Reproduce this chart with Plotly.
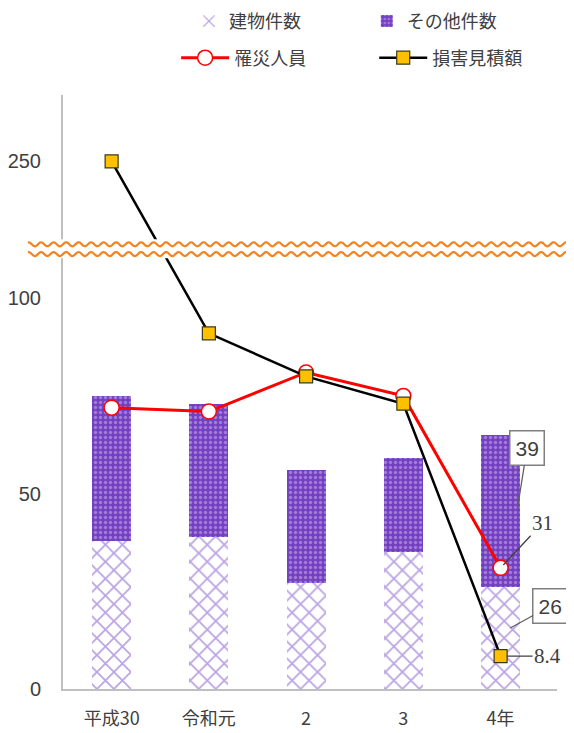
import numpy as np
import plotly.graph_objects as go

# ---- data ----
categories = ["平成30", "令和元", "2", "3", "4年"]
building_fires = [38, 39, 27, 35, 26]     # 建物件数
other_fires = [37, 34, 29, 24, 39]        # その他件数
casualties = [72, 71, 81, 75, 31]         # 罹災人員
damage = [250, 91, 80, 73, 8.4]           # 損害見積額
y_tick_values = [0, 50, 100, 250]

# ---- broken value axis: values above the break sit on a shifted segment ----
LOWER_MAX = 110
UPPER_MIN = 230
BREAK_TOP = 115


def axis_pos(v):
    return v if v <= LOWER_MAX else BREAK_TOP + (v - UPPER_MIN)


xs = list(range(len(categories)))

fig = go.Figure()
fig.add_trace(go.Bar(
    x=xs, y=building_fires, name="建物件数", width=0.4,
    marker=dict(color="#8a5cd4", line=dict(width=0),
                pattern=dict(shape="x", fgcolor="#7a4cc8", bgcolor="white",
                             size=12, solidity=0.28)),
    legend="legend"))
fig.add_trace(go.Bar(
    x=xs, y=other_fires, name="その他件数", width=0.4,
    marker=dict(color="#7b45c6", line=dict(width=0),
                pattern=dict(shape=".", fgcolor="#cdb8ee", bgcolor="#7440c2",
                             size=5, solidity=0.35)),
    legend="legend2"))
fig.add_trace(go.Scatter(
    x=xs, y=[axis_pos(v) for v in casualties], name="罹災人員",
    mode="lines+markers", line=dict(color="#ff0000", width=3),
    marker=dict(symbol="circle", size=15, color="white",
                line=dict(color="#ff0000", width=1.5)),
    legend="legend3"))
fig.add_trace(go.Scatter(
    x=xs, y=[axis_pos(v) for v in damage], name="損害見積額",
    mode="lines+markers", line=dict(color="#000000", width=2.5),
    marker=dict(symbol="square", size=13, color="#ffc000",
                line=dict(color="#3a3a1a", width=1.2)),
    legend="legend4"))

# ---- break band with wavy lines ----
x0p, x1p = -0.071, 1.05
plot_w = 494.0
py = 594.0 / 152.0  # px per display unit
shapes = [dict(type="rect", xref="paper", yref="y", x0=x0p, x1=x1p,
               y0=110.2, y1=115.1, fillcolor="white", line=dict(width=0),
               layer="above")]
for yc in (113.8, 111.3):
    xx = np.linspace(x0p, x1p, 500)
    yy = yc + (2.0 / py) * np.sin(2 * np.pi * (xx * plot_w) / 12.5)
    path = "M " + " L ".join(f"{a:.5f},{b:.4f}" for a, b in zip(xx, yy))
    shapes.append(dict(type="path", xref="paper", yref="y", path=path,
                       line=dict(color="#f5831f", width=2.2), layer="above"))

ann_font = dict(family="Liberation Sans, Arial", size=21, color="#404040")
serif_font = dict(family="Liberation Serif, DejaVu Serif", size=21, color="#404040")
annotations = [
    dict(x=4.17, y=45.8, xref="x", yref="y", text="39", showarrow=True,
         ax=10, ay=-62, arrowhead=0, arrowwidth=1.3, arrowcolor="#606060",
         bordercolor="#7f7f7f", borderwidth=1.5, borderpad=5, bgcolor="white",
         font=ann_font),
    dict(x=4, y=casualties[4], xref="x", yref="y", text="31", showarrow=True,
         ax=42, ay=-45, arrowhead=0, arrowwidth=1.3, arrowcolor="#404040",
         standoff=4, font=serif_font),
    dict(x=4.10, y=15.6, xref="x", yref="y", text="26", showarrow=True,
         ax=40, ay=-22, arrowhead=0, arrowwidth=1.3, arrowcolor="#606060",
         bordercolor="#7f7f7f", borderwidth=1.5, borderpad=5, bgcolor="white",
         font=ann_font),
    dict(x=4, y=damage[4], xref="x", yref="y", text="8.4", showarrow=True,
         ax=47, ay=0, arrowhead=0, arrowwidth=1.3, arrowcolor="#404040",
         standoff=6, font=serif_font),
]

legend_font = dict(family="Noto Sans CJK JP", size=18, color="#404040")


def leg(x, y, itemwidth=30):
    return dict(x=x, y=y, xanchor="left", yanchor="middle", font=legend_font,
                bgcolor="rgba(0,0,0,0)", itemwidth=itemwidth, borderwidth=0)


fig.update_layout(
    width=566, height=725,
    margin=dict(l=55, r=17, t=87, b=44, autoexpand=False),
    paper_bgcolor="white", plot_bgcolor="white",
    barmode="stack",
    showlegend=True,
    legend=leg(0.255, 1.124),
    legend2=leg(0.615, 1.124),
    legend3=leg(0.229, 1.0623, 48),
    legend4=leg(0.630, 1.0623, 48),
    xaxis=dict(range=[-0.5, 4.58], tickvals=xs, ticktext=categories,
               showline=True, linecolor="#bfbfbf", linewidth=2, showgrid=False,
               zeroline=False, ticks="", ticklabelstandoff=12, automargin=False,
               tickfont=dict(family="Noto Sans CJK JP", size=18, color="#404040")),
    yaxis=dict(range=[0, 152], tickvals=[axis_pos(v) for v in y_tick_values],
               ticktext=[str(v) for v in y_tick_values], automargin=False,
               showline=True, linecolor="#bfbfbf", linewidth=2, showgrid=False,
               zeroline=False, ticks="", ticklabelstandoff=16,
               tickfont=dict(family="Liberation Sans Narrow, Liberation Sans", size=20,
                             color="#404040")),
    shapes=shapes,
    annotations=annotations,
)

fig.write_html("out.html")
